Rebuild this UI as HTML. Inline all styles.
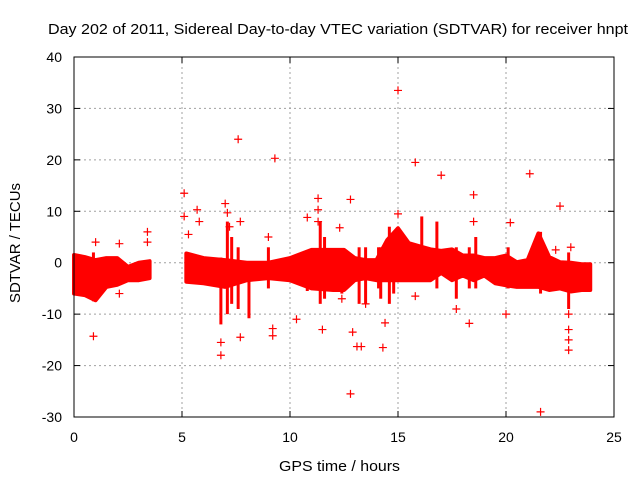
<!DOCTYPE html>
<html><head><meta charset="utf-8"><style>
body{margin:0;background:#fff}
svg{display:block;font-family:"Liberation Sans",sans-serif}
</style></head><body>
<svg id="chart" width="640" height="480" xmlns="http://www.w3.org/2000/svg">
<rect width="640" height="480" fill="#fff"/>
<text x="48" y="34" textLength="580" lengthAdjust="spacingAndGlyphs" font-size="15">Day 202 of 2011, Sidereal Day-to-day VTEC variation (SDTVAR) for receiver hnpt</text>
<text x="279" y="471" textLength="121" lengthAdjust="spacingAndGlyphs" font-size="15">GPS time / hours</text>
<text transform="translate(20,303) rotate(-90)" textLength="120" lengthAdjust="spacingAndGlyphs" font-size="15">SDTVAR / TECUs</text>
<g id="grid"></g>
<g id="ticks"></g>
<g id="marks"></g>
<rect x="74" y="57" width="540" height="360" fill="none" stroke="#000"/>
</svg>
<script>
const xTicks=[0,5,10,15,20,25];
const yTicks=[40,30,20,10,0,-10,-20,-30];
// band envelope segments: times, upper, lower
const seg1T=[0,0.5,1,1.5,2,2.5,3,3.5];
const seg1Up=[1.5,1.1,0.5,0.9,0.9,-0.8,0,0.3];
const seg1Lo=[-6,-6.3,-7.3,-4.7,-4.3,-3.4,-3.4,-3];
const seg2T=[5.2,6,7,8,9,10,11,12,12.5,13,13.5,14,14.5,15,15.5,16,16.5,17,17.5,18,18.5,19,19.5,20,20.5,21,21.5,22,22.5,23,23.5,23.9];
const seg2Up=[1.8,0.9,0.5,0,0,0.9,2.5,2.5,2.5,0.9,0.5,0.5,4.4,6.7,3.8,3.2,2.6,2.3,2.6,1.4,1.4,0.9,0.9,1.4,0.1,0.5,5.7,1.1,0.1,0,-0.3,-0.3];
const seg2Lo=[-3.7,-4,-4.7,-3.4,-3,-3.4,-5,-5.3,-5.3,-3.4,-3,-3.4,-3.4,-3.4,-3.4,-3.4,-3.4,-2,-3.4,-2.5,-3.4,-2.5,-4,-4.4,-4.7,-4.7,-4.7,-5.3,-5,-5.6,-5.3,-5.3];
// vertical spike clusters: time, low, high
const spikeT=[0.9,6.8,7.1,7.3,7.6,8.1,9.0,10.8,11.4,11.6,12.4,13.2,13.5,14.1,14.2,14.6,14.8,16.1,16.8,17.7,18.3,18.6,20.1,21.6,22.9];
const spikeLo=[-7.5,-12,-10,-8,-9,-10.8,-5,-5.5,-8,-7,-6,-8,-8,-5,-7,-8,-6,-2,-5,-7,-5,-5,-5,-6,-9];
const spikeHi=[2,1,8,5,3,0,3,2,8,5,2,3,3,3,3,7,4,9,8,3,3,5,3,6,2];
// outlier points
const outT=[0.9,1,2.1,2.1,3.4,3.4,5.1,5.1,5.3,5.7,5.8,6.8,6.8,7,7.1,7.2,7.6,7.7,7.7,9,9.2,9.2,9.3,10.3,10.8,11.3,11.3,11.3,11.5,12.3,12.4,12.8,12.8,12.9,13.1,13.3,13.5,14.3,14.4,15,15,15.8,15.8,17,17.7,18.3,18.5,18.5,20,20.2,21.1,21.6,22.5,22.3,22.9,22.9,22.9,22.9,23];
const outV=[-14.3,4,3.7,-6,6,4,13.5,9,5.5,10.3,8,-18,-15.5,11.5,9.7,7,24,8,-14.5,5,-12.8,-14.2,20.3,-11,8.8,12.5,10.3,8,-13,6.8,-7,12.3,-25.5,-13.5,-16.3,-16.3,-8,-16.5,-11.7,33.5,9.5,19.5,-6.5,17,-9,-11.8,13.2,8,-10,7.8,17.3,-29,11,2.5,-10,-13,-15,-17,3];

const NS='http://www.w3.org/2000/svg';
const X=t=>74+t*21.6, Y=v=>57+(40-v)*360/70;
function mk(tag,attrs,parent){const e=document.createElementNS(NS,tag);for(const k in attrs)e.setAttribute(k,attrs[k]);parent.appendChild(e);return e;}
const grid=document.getElementById('grid'),ticks=document.getElementById('ticks'),marks=document.getElementById('marks');
xTicks.forEach(t=>{
  if(t>0&&t<25){const g=mk('line',{x1:X(t),x2:X(t),y1:57,y2:417,stroke:'#a0a0a0','stroke-dasharray':'2,3'},grid);
  
  }
  mk('line',{x1:X(t),x2:X(t),y1:417,y2:411,stroke:'#000'},ticks);
  mk('line',{x1:X(t),x2:X(t),y1:57,y2:63,stroke:'#000'},ticks);
  const l=mk('text',{x:X(t),y:442,'text-anchor':'middle','font-size':14},ticks);l.textContent=t;
  
  
});
yTicks.forEach(v=>{
  if(v<40&&v>-30){const g=mk('line',{x1:74,x2:614,y1:Y(v),y2:Y(v),stroke:'#a0a0a0','stroke-dasharray':'2,3'},grid);
  
  }
  mk('line',{x1:74,x2:80,y1:Y(v),y2:Y(v),stroke:'#000'},ticks);
  mk('line',{x1:614,x2:608,y1:Y(v),y2:Y(v),stroke:'#000'},ticks);
  const l=mk('text',{x:62,y:Y(v)+5,'text-anchor':'end','font-size':14},ticks);l.textContent=v;
  
  
});
function band(T,U,L,name){
  let pts=T.map((t,i)=>X(t)+','+Y(U[i]));
  for(let i=T.length-1;i>=0;i--)pts.push(X(T[i])+','+Y(L[i]));
  const p=mk('polygon',{points:pts.join(' '),fill:'#f00',stroke:'#f00','stroke-width':4,'stroke-linejoin':'round'},marks);
  
  
}
band(seg1T,seg1Up,seg1Lo,'data-band-early');
band(seg2T,seg2Up,seg2Lo,'data-band-main');
spikeT.forEach((t,i)=>{
  const s=mk('rect',{x:X(t)-1.5,y:Y(spikeHi[i]),width:3,height:Y(spikeLo[i])-Y(spikeHi[i]),fill:'#f00'},marks);
  
  
});
outT.forEach((t,i)=>{
  const x=X(t),y=Y(outV[i]);
  const p=mk('path',{d:`M${x-4},${y}H${x+4}M${x},${y-4}V${y+4}`,stroke:'#f00','stroke-width':1.2},marks);
  
  
});
</script>
</body></html>
